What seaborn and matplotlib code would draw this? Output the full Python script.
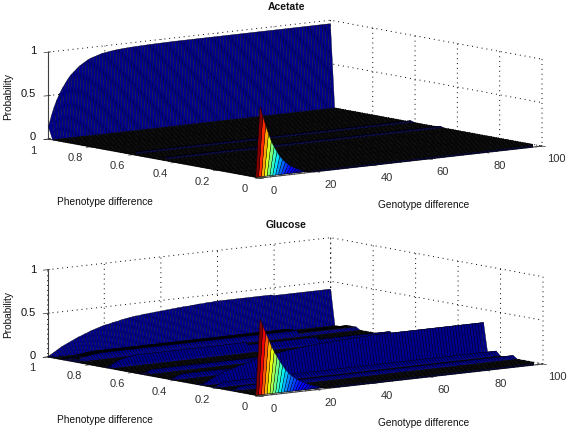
import numpy as np
import matplotlib
matplotlib.use("Agg")
import matplotlib.pyplot as plt
import seaborn as sns
from mpl_toolkits.mplot3d import proj3d

genotype = np.arange(101)
pheno = np.linspace(0, 1, 51)
z_ticks = [0, 0.5, 1]
z_tick_labels = ["0", "0.5", "1"]
x_ticks = [0, 20, 40, 60, 80, 100]
y_ticks = [0, 0.2, 0.4, 0.6, 0.8, 1]
y_tick_labels = ["0", "0.2", "0.4", "0.6", "0.8", "1"]

# values, one per genotype difference
acetate_wall = [0.14, 0.26, 0.36, 0.44, 0.51, 0.57, 0.62, 0.67, 0.71, 0.74,
                0.77, 0.80, 0.82, 0.84, 0.86, 0.875, 0.885, 0.895, 0.905, 0.915,
                0.92, 0.925, 0.93, 0.934, 0.938, 0.94, 0.943, 0.945, 0.947, 0.949,
                0.95, 0.951, 0.952, 0.953, 0.954, 0.955, 0.956, 0.956, 0.957, 0.957,
                0.958, 0.958, 0.959, 0.959, 0.96, 0.96, 0.96, 0.96, 0.96, 0.96] + [0.96] * 51
acetate_peak = [0.82, 0.71, 0.60, 0.50, 0.41, 0.34, 0.28, 0.225, 0.185, 0.15,
                0.12, 0.095, 0.075, 0.06, 0.045, 0.03, 0.02, 0.015, 0.01, 0.006,
                0.004, 0.002] + [0] * 79
acetate_low_1 = [0, 0.004, 0.008] + [0.014] * 98
acetate_low_2 = [0, 0.004, 0.008] + [0.014] * 98

glucose_wall = [0, 0.02, 0.04, 0.06, 0.08, 0.10, 0.115, 0.13, 0.145, 0.16,
                0.175, 0.19, 0.20, 0.215, 0.225, 0.24, 0.25, 0.26, 0.27, 0.28,
                0.29, 0.295, 0.30, 0.31, 0.315, 0.32, 0.33, 0.335, 0.34, 0.345,
                0.35, 0.355, 0.355, 0.36, 0.365, 0.365, 0.37, 0.37, 0.375, 0.375,
                0.38, 0.38, 0.385, 0.385, 0.39, 0.39, 0.395, 0.395, 0.40, 0.40,
                0.40, 0.405, 0.405, 0.41, 0.41, 0.41, 0.415, 0.415, 0.415, 0.42] + [0.42] * 20 + [0.41] * 21
glucose_mid_wall = [0, 0.015, 0.03, 0.045, 0.06, 0.075, 0.09, 0.10, 0.115, 0.13,
                    0.135, 0.145, 0.155, 0.165, 0.175, 0.18, 0.19, 0.20, 0.21, 0.22,
                    0.225, 0.23, 0.24, 0.245, 0.25, 0.255, 0.26, 0.265, 0.27, 0.275,
                    0.28, 0.285, 0.29, 0.29, 0.295, 0.30, 0.30, 0.305, 0.31, 0.31,
                    0.315, 0.315, 0.32, 0.32, 0.32, 0.325, 0.325, 0.33, 0.33, 0.33,
                    0.335, 0.335, 0.335, 0.34, 0.34, 0.34, 0.34, 0.345, 0.345, 0.345] + [0.35] * 41
glucose_peak = [0.886, 0.80, 0.72, 0.64, 0.56, 0.49, 0.43, 0.37, 0.32, 0.27,
                0.23, 0.195, 0.17, 0.145, 0.125, 0.105, 0.09, 0.075, 0.06, 0.05,
                0.04, 0.03, 0.02, 0.015, 0.01, 0.007, 0.004, 0.002] + [0] * 73
glucose_shoulder = [0, 0.01, 0.02, 0.03, 0.04, 0.045, 0.05, 0.055, 0.06, 0.06] + [0.065] * 70 + [0.03] * 21
glucose_band_1 = [0, 0.02, 0.04, 0.055, 0.07, 0.08, 0.09, 0.095, 0.10, 0.105] + [0.11] * 40 + [0.08] * 25 + [0.05] * 26
glucose_band_2 = [0, 0.01, 0.02, 0.03] + [0.04] * 97
glucose_band_3 = [0, 0.015, 0.03, 0.04] + [0.05] * 97
glucose_band_4 = [0, 0.015, 0.03, 0.04] + [0.05] * 97
glucose_band_5 = [0, 0.01, 0.02, 0.03] + [0.035] * 97

sns.set_theme(style="white", font="Liberation Sans", rc={
    "grid.color": "black", "grid.linestyle": (0, (1, 4)), "grid.linewidth": 0.7,
    "xtick.labelsize": 8.2, "ytick.labelsize": 8.2,
    "xtick.major.width": 0.5, "ytick.major.width": 0.5,
    "xtick.color": "#303030", "ytick.color": "#303030", "text.color": "#111111",
})
plt.rcParams["axes3d.grid"] = True
jet = matplotlib.colormaps["jet"]


def build_surface(rows):
    z = np.zeros((len(pheno), len(genotype)))
    for p, values in rows:
        z[int(round(p * 50))] = values
    return z


def face_colors(z, peak):
    colors = np.zeros(z.shape + (4,))
    colors[:] = jet(0.015)
    spread = np.zeros(z.shape)
    stacked = np.stack([z[:-1, :-1], z[1:, :-1], z[:-1, 1:], z[1:, 1:]])
    spread[:-1, :-1] = stacked.max(axis=0) - stacked.min(axis=0)
    # shallow faces read as almost black under the mesh lines
    colors[spread < 0.03] = (0, 0, 0.3, 1)
    colors[spread < 0.01] = (0, 0, 0, 1)
    colors[0] = jet(np.array(peak) / peak[0])
    return colors


def project(ax, x, y, z):
    px, py, _ = proj3d.proj_transform(x, y, z, ax.M)
    return ax.transData.transform((px, py))


def place_axes(fig, ax, origin, x_end):
    # scale and shift the 3d box until the floor corners land on the wanted pixels
    for _ in range(3):
        fig.canvas.draw()
        a = project(ax, 0, 0, 0)
        b = project(ax, 100, 0, 0)
        s = (x_end[0] - origin[0]) / (b[0] - a[0])
        pos = ax.get_position()
        w = pos.width * s
        h = pos.height * s
        cx = pos.x0 + pos.width / 2
        cy = pos.y0 + pos.height / 2
        fx = (a[0] / fig.bbox.width - cx) * s + cx
        fy = (a[1] / fig.bbox.height - cy) * s + cy
        cx += origin[0] / fig.bbox.width - fx
        cy += (fig.bbox.height - origin[1]) / fig.bbox.height - fy
        ax.set_position([cx - w / 2, cy - h / 2, w, h])


def plot_panel(fig, rect, rows, peak, origin, x_end):
    z = build_surface(rows)
    xx, yy = np.meshgrid(genotype, pheno)
    ax = fig.add_axes(rect, projection="3d", proj_type="ortho")
    ax.patch.set_alpha(0)
    ax.view_init(elev=8.3, azim=-128.1)
    ax.set_box_aspect((359, 343.5, 88))
    ax.plot_surface(xx, yy, z, facecolors=face_colors(z, peak), rstride=1, cstride=1,
                    shade=False, edgecolor=(0, 0, 0, 1), linewidth=0.25, antialiased=True)
    ax.set_xlim(0, 100, view_margin=0)
    ax.set_ylim(0, 1, view_margin=0)
    ax.set_zlim(0, 1, view_margin=0)
    ax.set_xticks(x_ticks)
    ax.set_yticks(y_ticks, y_tick_labels)
    # the z labels are placed by hand below, mplot3d pushes them too far left
    ax.set_zticks(z_ticks, [""] * len(z_ticks))
    ax.tick_params(axis="x", labelsize=8, pad=4)
    ax.tick_params(axis="y", labelsize=8, pad=2)
    for axis in (ax.xaxis, ax.yaxis, ax.zaxis):
        axis.set_pane_color((1, 1, 1, 0))
        axis.pane.set_edgecolor((1, 1, 1, 0))
        axis.line.set_color("#404040")
        axis.line.set_linewidth(0.8)
    place_axes(fig, ax, origin, x_end)
    return ax


fig = plt.figure(figsize=(5.72, 4.32), dpi=100)

plot_panel(fig, [0.0, 0.45, 1.0, 1.0],
           [(1, acetate_wall), (0, acetate_peak), (0.62, acetate_low_1), (0.48, acetate_low_2)],
           acetate_peak, (260, 178), (542, 148))
plot_panel(fig, [0.0, 0.0, 1.0, 1.0],
           [(1, glucose_wall), (0.92, glucose_shoulder), (0.90, glucose_shoulder), (0.88, glucose_shoulder),
            (0.72, glucose_band_1), (0.56, glucose_band_2), (0.42, glucose_band_3),
            (0.28, glucose_mid_wall), (0.22, glucose_band_4), (0.14, glucose_band_5), (0, glucose_peak)],
           glucose_peak, (260, 396), (543, 367))

for title, y in (("Acetate", 7), ("Glucose", 225)):
    fig.text(286 / 572, 1 - y / 432, title, ha="center", va="center", fontsize=7.5, fontweight="bold")
for y in (202, 420):
    fig.text(105 / 572, 1 - y / 432, "Phenotype difference", ha="center", va="center", fontsize=7.3)
for y in (205, 423):
    fig.text(424 / 572, 1 - y / 432, "Genotype difference", ha="center", va="center", fontsize=7.3)
for y in (96, 314):
    fig.text(8 / 572, 1 - y / 432, "Probability", ha="center", va="center", rotation=90, fontsize=7.3)
for base in (137, 356):
    for label, tick in zip(z_tick_labels, z_ticks):
        fig.text(36 / 572, 1 - (base - 86 * tick) / 432, label, ha="right", va="center", fontsize=8)

fig.savefig("out.png", dpi=100)
